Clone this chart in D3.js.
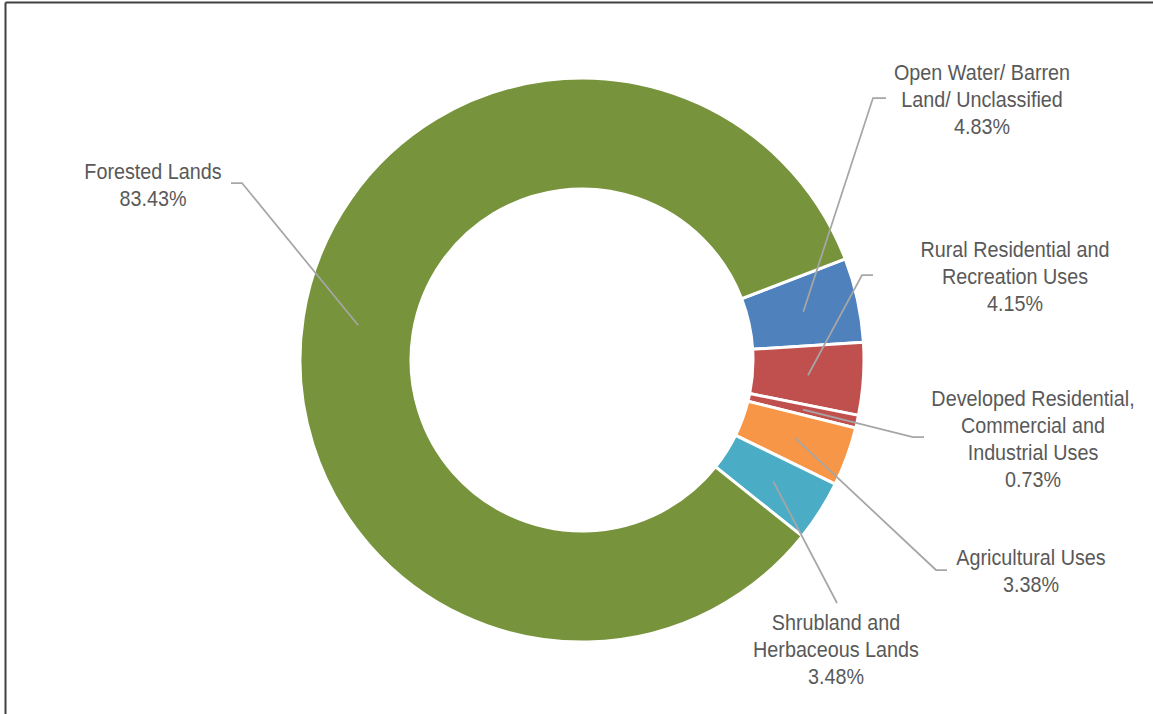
<!DOCTYPE html>
<html>
<head>
<meta charset="utf-8">
<script src="https://cdn.jsdelivr.net/npm/d3@7/dist/d3.min.js"></script>
<style>
  html, body { margin: 0; padding: 0; background: #fff; }
  svg { display: block; }
  .lbl { font-family: "Liberation Sans", Arial, sans-serif; font-size: 21.5px; fill: #595959; }
</style>
</head>
<body>
<svg id="chart" width="1153" height="714"></svg>
<script>
// Land use shares, listed clockwise from the first slice
const categories = [
  "Open Water/ Barren Land/ Unclassified",
  "Rural Residential and Recreation Uses",
  "Developed Residential, Commercial and Industrial Uses",
  "Agricultural Uses",
  "Shrubland and Herbaceous Lands",
  "Forested Lands"
];
const shares = [4.83, 4.15, 0.73, 3.38, 3.48, 83.43];
const colors = ["#4F81BD", "#C0504D", "#C0504D", "#F79646", "#4BACC6", "#77933C"];

// Label text, one entry per line
const labelLines = [
  ["Open Water/ Barren", "Land/ Unclassified", "4.83%"],
  ["Rural Residential and", "Recreation Uses", "4.15%"],
  ["Developed Residential,", "Commercial and", "Industrial Uses", "0.73%"],
  ["Agricultural Uses", "3.38%"],
  ["Shrubland and", "Herbaceous Lands", "3.48%"],
  ["Forested Lands", "83.43%"]
];
// Label block placement: centre x, first-line centre y
const labelPos = [
  [982, 72], [1015, 249], [1033, 398], [1031, 557], [836, 622], [153, 171]
];
// Leader elbow points: [elbowX, elbowY, endX] (endX null = no horizontal run)
const leaderElbows = [
  [873, 98, 886], [862, 275, 873], [913, 437, 924], [936, 570, 947], [837, 603, null], [242, 183, 231]
];

const svg = d3.select("#chart");
const cx = 582, cy = 360;
const rOuter = 282, rInner = 171;

// Frame lines along the top and left edges
svg.append("line").attr("x1", 5.5).attr("y1", 2.5).attr("x2", 1153).attr("y2", 2.5)
  .attr("stroke", "#404040").attr("stroke-width", 2);
svg.append("line").attr("x1", 5.5).attr("y1", 2.5).attr("x2", 5.5).attr("y2", 714)
  .attr("stroke", "#404040").attr("stroke-width", 2);

const pie = d3.pie().sort(null).value(d => d)
  .startAngle(69 * Math.PI / 180)
  .endAngle(69 * Math.PI / 180 + 2 * Math.PI);
const arcs = pie(shares);
const arc = d3.arc().innerRadius(rInner).outerRadius(rOuter);

const g = svg.append("g").attr("transform", `translate(${cx},${cy})`);
g.selectAll("path.slice").data(arcs).enter().append("path")
  .attr("class", "slice")
  .attr("d", arc)
  .attr("fill", (d, i) => colors[i])
  .attr("stroke", "#fff")
  .attr("stroke-width", 3)
  .attr("stroke-linejoin", "miter");

// Leader lines from each slice centroid to its label
arcs.forEach((d, i) => {
  const c = arc.centroid(d);
  const [ex, ey, hx] = leaderElbows[i];
  const pts = [[cx + c[0], cy + c[1]], [ex, ey]];
  if (hx !== null) pts.push([hx, ey]);
  svg.append("path")
    .attr("d", d3.line()(pts))
    .attr("fill", "none")
    .attr("stroke", "#A6A6A6")
    .attr("stroke-width", 1.75);
});

// Data labels (slightly condensed face)
labelLines.forEach((lines, i) => {
  const [x, y] = labelPos[i];
  const t = svg.append("text").attr("class", "lbl").attr("text-anchor", "middle")
    .attr("transform", `translate(${x},0) scale(0.92,1)`);
  lines.forEach((s, k) => {
    t.append("tspan").attr("x", 0).attr("y", y + k * 27.3).attr("dy", "0.35em").text(s);
  });
});
</script>
</body>
</html>
